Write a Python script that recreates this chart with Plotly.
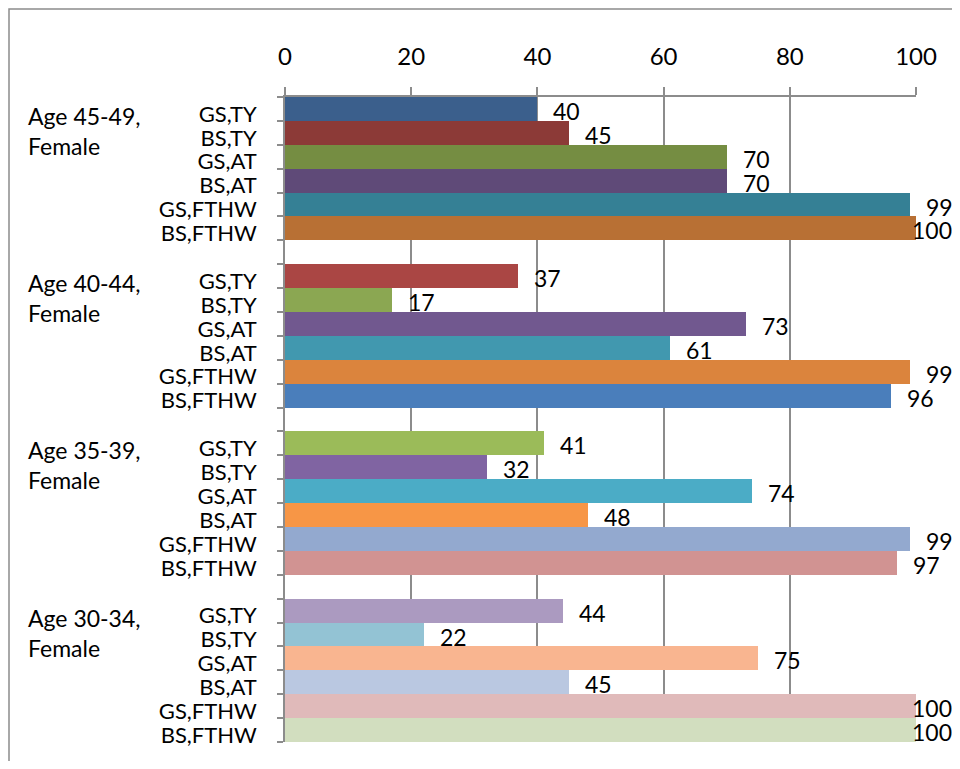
import plotly.graph_objects as go

# groups from top to bottom, each with the same six sub categories
groups = ["Age 45-49,<br>Female", "Age 40-44,<br>Female",
          "Age 35-39,<br>Female", "Age 30-34,<br>Female"]
subs = ["GS,TY", "BS,TY", "GS,AT", "BS,AT", "GS,FTHW", "BS,FTHW"]

vals_45_49 = [40, 45, 70, 70, 99, 100]
vals_40_44 = [37, 17, 73, 61, 99, 96]
vals_35_39 = [41, 32, 74, 48, 99, 97]
vals_30_34 = [44, 22, 75, 45, 100, 100]

colors_45_49 = ["#3B5F8C", "#8C3A37", "#758D42", "#5F4A78", "#358095", "#B87034"]
colors_40_44 = ["#AA4644", "#8BA752", "#71588F", "#4198AF", "#DB843D", "#4A7EBB"]
colors_35_39 = ["#9BBB59", "#8064A2", "#4BACC6", "#F79646", "#93A9CF", "#D19392"]
colors_30_34 = ["#AB9AC0", "#93C3D4", "#F9B590", "#BAC8E1", "#E0BABA", "#D2DEBF"]

all_vals = [vals_45_49, vals_40_44, vals_35_39, vals_30_34]
all_colors = [colors_45_49, colors_40_44, colors_35_39, colors_30_34]

FONT = "Lato"
GRID = "#8C8C8C"

# page has an 8px body margin, so the figure is a bit smaller
W, H = 944, 753
L, T = 277, 89
PW, PH = 631, 645

# slot positions: 6 bars per group plus one empty slot between groups
ys, xs, cols, labels = [], [], [], []
for g, (vals, cs) in enumerate(zip(all_vals, all_colors)):
    for i, (v, c) in enumerate(zip(vals, cs)):
        ys.append(g * 7 + i)
        xs.append(v)
        cols.append(c)
        labels.append(subs[i])
n_slots = 4 * 7 - 1

fig = go.Figure()
fig.add_trace(go.Bar(
    x=xs, y=ys, orientation="h",
    marker=dict(color=cols, line=dict(width=0)),
    width=1,
    hoverinfo="x+y",
))

# data labels
for x, y in zip(xs, ys):
    fig.add_annotation(
        x=x, y=y, xref="x", yref="y", text=str(x),
        showarrow=False, xanchor="left", yanchor="middle",
        xshift=14 if x < 100 else -6, yshift=-2,
        font=dict(family=FONT, size=23, color="black"),
    )

# group labels
for g, name in enumerate(groups):
    fig.add_annotation(
        x=(18 - L) / PW, y=g * 7 - 0.5, xref="paper", yref="y", text=name,
        showarrow=False, xanchor="left", yanchor="top", align="left",
        yshift=-3,
        font=dict(family=FONT, size=23, color="black"),
    )

# outer chart border
fig.add_shape(type="rect", xref="paper", yref="paper",
              x0=(1 - L) / PW, x1=2.0, y0=-0.2, y1=1 + (T - 1) / PH,
              line=dict(color="#8C8C8C", width=1.5), layer="below")

fig.update_layout(
    width=W, height=H,
    margin=dict(l=L, r=W - L - PW, t=T, b=H - T - PH),
    plot_bgcolor="white", paper_bgcolor="white",
    bargap=0, showlegend=False,
    font=dict(family=FONT, size=22, color="black"),
)
fig.update_xaxes(
    side="top", range=[0, 100], tickvals=[0, 20, 40, 60, 80, 100],
    showgrid=True, gridcolor=GRID, gridwidth=1.5,
    showline=True, linecolor=GRID, linewidth=1.5,
    ticks="outside", ticklen=8, tickcolor=GRID, tickwidth=1.5,
    ticklabelstandoff=13,
    zeroline=False, tickfont=dict(family=FONT, size=24),
)
fig.update_yaxes(
    range=[n_slots - 0.5, -0.5],
    tickvals=ys, ticktext=labels, ticks="",
    ticklabelstandoff=22, ticklabelshift=-5,
    minor=dict(ticks="outside", ticklen=6, tick0=0.5, dtick=1,
               tickcolor=GRID, tickwidth=1.5, showgrid=False),
    showgrid=False, zeroline=False,
    showline=True, linecolor=GRID, linewidth=1.5,
    tickfont=dict(family=FONT, size=22),
)

fig.write_html("out.html")
